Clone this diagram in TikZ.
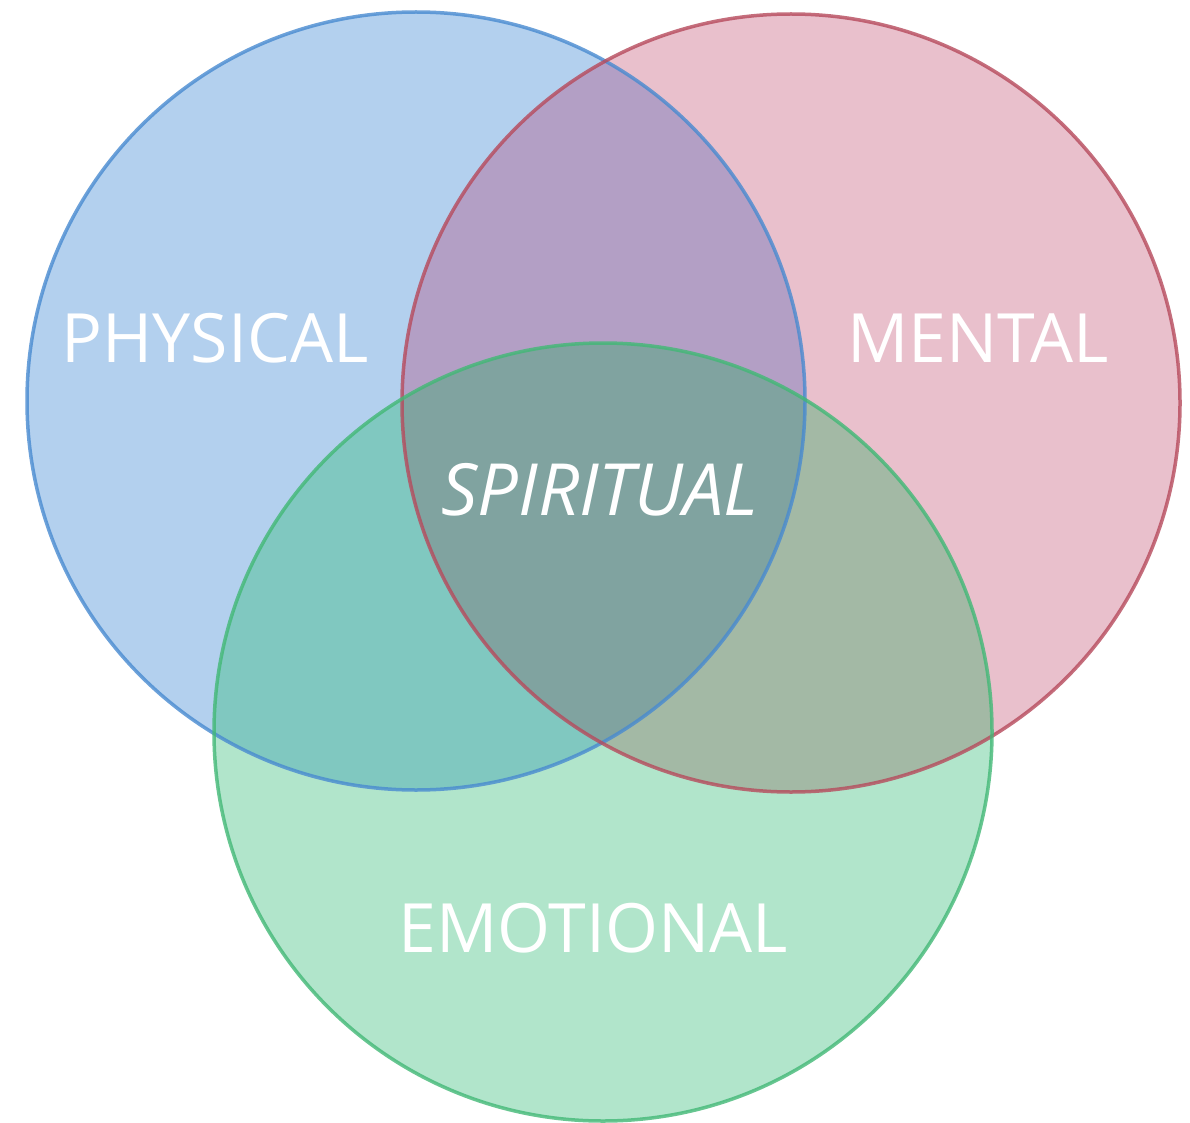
\documentclass[tikz,border=0pt]{standalone}
\usepackage{fontspec}
\setmainfont{Open Sans}
\definecolor{bfill}{RGB}{179,208,238}
\definecolor{rfill}{RGB}{233,192,204}
\definecolor{gfill}{RGB}{177,229,203}
\definecolor{brfill}{RGB}{179,159,197}
\definecolor{bgfill}{RGB}{128,200,192}
\definecolor{rgfill}{RGB}{163,185,165}
\definecolor{cfill}{RGB}{128,163,160}
\definecolor{bline}{RGB}{72,138,208}
\definecolor{rline}{RGB}{182,74,92}
\definecolor{gline}{RGB}{66,184,118}
\tikzset{
  lbl/.style={text=white, font=\fontsize{68}{80}\selectfont, inner sep=0pt, anchor=center},
  ring/.style={line width=3.5pt, draw opacity=0.8}
}
\begin{document}
\begin{tikzpicture}[x=1pt,y=-1pt]
\useasboundingbox[fill=white] (0,0) rectangle (1190,1123);
\coordinate (B) at (416,401);
\coordinate (R) at (791,403);
\coordinate (G) at (603,732);
\def\rad{389pt}
% base fills
\fill[bfill] (B) circle[radius=\rad];
\fill[rfill] (R) circle[radius=\rad];
\fill[gfill] (G) circle[radius=\rad];
% overlaps
\begin{scope}
  \clip (B) circle[radius=\rad];
  \fill[brfill] (R) circle[radius=\rad];
  \fill[bgfill] (G) circle[radius=\rad];
\end{scope}
\begin{scope}
  \clip (R) circle[radius=\rad];
  \fill[rgfill] (G) circle[radius=\rad];
\end{scope}
\begin{scope}
  \clip (B) circle[radius=\rad];
  \clip (R) circle[radius=\rad];
  \fill[cfill] (G) circle[radius=\rad];
\end{scope}
% borders
\draw[ring, bline] (B) circle[radius=\rad];
\draw[ring, rline] (R) circle[radius=\rad];
\draw[ring, gline] (G) circle[radius=\rad];
% labels
\node[lbl] (phys) at (215,338) {PHYSICAL};
\node[lbl] (ment) at (978,338) {MENTAL};
\node[lbl, font=\fontsize{72}{84}\selectfont\itshape] (spir) at (600,490) {SPIRITUAL};
\node[lbl] (emot) at (593,928) {EMOTIONAL};
\end{tikzpicture}
\end{document}
